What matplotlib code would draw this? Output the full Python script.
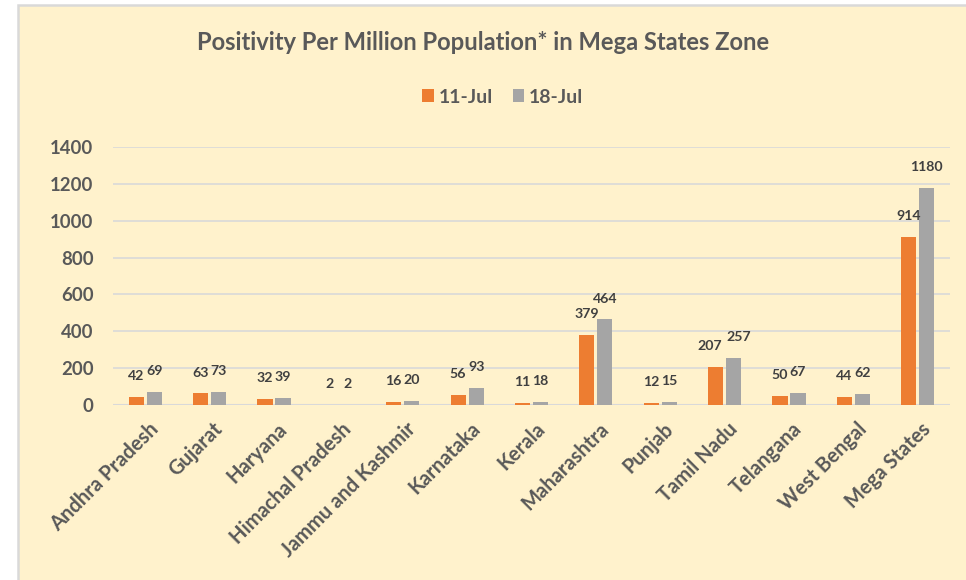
import matplotlib
matplotlib.use("Agg")
import matplotlib.pyplot as plt
import matplotlib.transforms as mtransforms
import numpy as np
from matplotlib.patches import Rectangle

categories = ["Andhra Pradesh", "Gujarat", "Haryana", "Himachal Pradesh",
              "Jammu and Kashmir", "Karnataka", "Kerala", "Maharashtra",
              "Punjab", "Tamil Nadu", "Telangana", "West Bengal", "Mega States"]
jul11 = [42, 63, 32, 2, 16, 56, 11, 379, 12, 207, 50, 44, 914]
jul18 = [69, 73, 39, 2, 20, 93, 18, 464, 15, 257, 67, 62, 1180]
series_names = ["11-Jul", "18-Jul"]
yticks = [0, 200, 400, 600, 800, 1000, 1200, 1400]

plt.rcParams['font.family'] = ['Lato', 'DejaVu Sans']

W, H = 966, 580
fig = plt.figure(figsize=(W/100, H/100), dpi=100)
fig.patch.set_facecolor('white')
bg = '#FFF2CC'
fig.patches.append(Rectangle((18/W, -0.05), 1.0, 1.05 - 5/H, transform=fig.transFigure,
                             facecolor=bg, edgecolor='#D9D9D9', linewidth=1.8, zorder=-5))

ax = fig.add_axes([113/W, (H-405)/H, (950-113)/W, (405-147)/H])
ax.set_zorder(2)
ax.patch.set_alpha(0)

x = np.arange(len(categories))
bw = 0.235
off = 0.14
orange = '#ED7D31'
gray = '#A5A5A5'
b1 = ax.bar(x - off, jul11, bw, color=orange, label=series_names[0], zorder=3)
b2 = ax.bar(x + off, jul18, bw, color=gray, label=series_names[1], zorder=3)

ymax = 1400
px_per_unit = (405 - 147) / ymax
for i, (r1, r2, v1, v2) in enumerate(zip(b1, b2, jul11, jul18)):
    dx = 0
    long_labels = len(str(v1)) >= 3 and len(str(v2)) >= 3
    if long_labels and abs(v2 - v1) * px_per_unit < 12:
        dx = 4
    for r, v, sgn in ((r1, v1, -1), (r2, v2, 1)):
        ax.annotate(str(v), (r.get_x() + r.get_width()/2, v), xytext=(sgn*dx, 15),
                    textcoords='offset points', ha='center', va='center',
                    fontsize=10.2, fontweight='bold', color='#404040', zorder=4)

ax.set_ylim(0, ymax)
ax.set_xlim(-0.5, len(categories) - 0.5)
ax.set_yticks(yticks)
ax.set_yticklabels([str(t) for t in yticks])
ax.yaxis.grid(True, color='#D9D9D9', linewidth=1.2, zorder=0)
ax.set_axisbelow(True)
for s in ax.spines.values():
    s.set_visible(False)
ax.axhline(0, color='#D9D9D9', linewidth=1.5, zorder=2)
ax.tick_params(axis='both', length=0, colors='#595959')
ax.tick_params(axis='y', pad=14, labelsize=13.4)
ax.tick_params(axis='x', pad=10)
ax.set_xticks(x)
ax.set_xticklabels(categories, rotation=45, ha='right', rotation_mode='anchor',
                   fontweight='bold', fontsize=14.5, color='#595959')
shift = mtransforms.ScaledTranslation(3/100, 0, fig.dpi_scale_trans)
for lab in ax.get_xticklabels():
    lab.set_transform(lab.get_transform() + shift)
for lab in ax.get_yticklabels():
    lab.set_fontweight('bold')

fig.text(0.5, 1 - 42/H, "Positivity Per Million Population* in Mega States Zone",
         ha='center', va='center', fontsize=17.1, fontweight='bold', color='#595959')

leg = fig.legend(handles=[b1, b2], labels=series_names, loc='center',
                 bbox_to_anchor=(503/W, 1 - 97/H), ncol=2, frameon=False,
                 handlelength=0.6, handleheight=0.6, handletextpad=0.25,
                 columnspacing=1.0, prop={'weight': 'bold', 'size': 14})
for t in leg.get_texts():
    t.set_color('#595959')

fig.savefig('out.png', dpi=100, facecolor=fig.get_facecolor())
